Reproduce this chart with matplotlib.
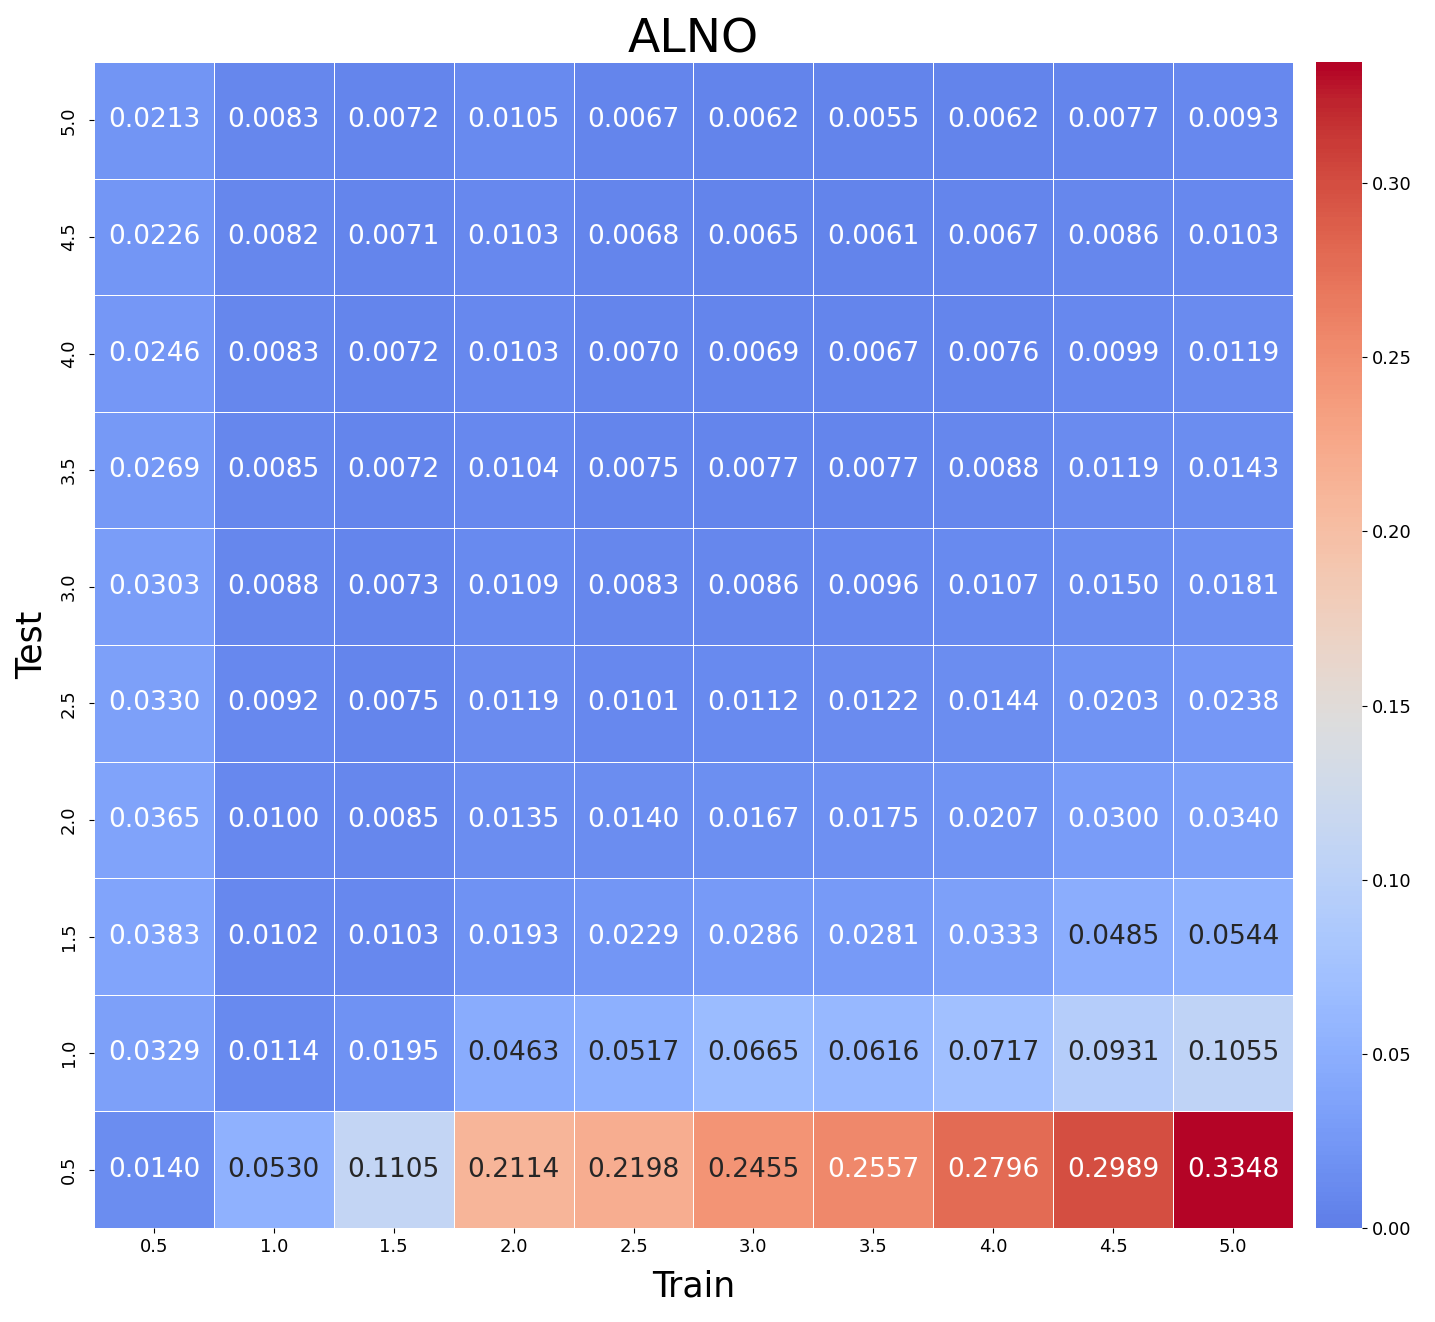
import matplotlib
matplotlib.use("Agg")
import matplotlib.pyplot as plt
import numpy as np
import seaborn as sns

train_labels = ["0.5", "1.0", "1.5", "2.0", "2.5", "3.0", "3.5", "4.0", "4.5", "5.0"]
# rows listed top to bottom (test = 5.0 ... 0.5)
test_labels = ["5.0", "4.5", "4.0", "3.5", "3.0", "2.5", "2.0", "1.5", "1.0", "0.5"]

row_50 = [0.0213, 0.0083, 0.0072, 0.0105, 0.0067, 0.0062, 0.0055, 0.0062, 0.0077, 0.0093]
row_45 = [0.0226, 0.0082, 0.0071, 0.0103, 0.0068, 0.0065, 0.0061, 0.0067, 0.0086, 0.0103]
row_40 = [0.0246, 0.0083, 0.0072, 0.0103, 0.0070, 0.0069, 0.0067, 0.0076, 0.0099, 0.0119]
row_35 = [0.0269, 0.0085, 0.0072, 0.0104, 0.0075, 0.0077, 0.0077, 0.0088, 0.0119, 0.0143]
row_30 = [0.0303, 0.0088, 0.0073, 0.0109, 0.0083, 0.0086, 0.0096, 0.0107, 0.0150, 0.0181]
row_25 = [0.0330, 0.0092, 0.0075, 0.0119, 0.0101, 0.0112, 0.0122, 0.0144, 0.0203, 0.0238]
row_20 = [0.0365, 0.0100, 0.0085, 0.0135, 0.0140, 0.0167, 0.0175, 0.0207, 0.0300, 0.0340]
row_15 = [0.0383, 0.0102, 0.0103, 0.0193, 0.0229, 0.0286, 0.0281, 0.0333, 0.0485, 0.0544]
row_10 = [0.0329, 0.0114, 0.0195, 0.0463, 0.0517, 0.0665, 0.0616, 0.0717, 0.0931, 0.1055]
row_05 = [0.0140, 0.0530, 0.1105, 0.2114, 0.2198, 0.2455, 0.2557, 0.2796, 0.2989, 0.3348]

errors = np.array([row_50, row_45, row_40, row_35, row_30,
                   row_25, row_20, row_15, row_10, row_05])

fig = plt.figure(figsize=(14.35, 13.22), dpi=100)
ax = fig.add_axes([0.0655, 0.0711, 0.8355, 0.882])
cax = fig.add_axes([0.917, 0.0711, 0.032, 0.882])

# centred colormap: zero sits on a mid blue, the max on deep red
sns.heatmap(errors, ax=ax, cbar_ax=cax, cmap="coolwarm", vmin=0, center=0.145,
            annot=True, fmt=".4f", annot_kws={"fontsize": 19},
            linewidths=0.6, linecolor="white",
            xticklabels=train_labels, yticklabels=test_labels)

ax.set_title("ALNO", fontsize=34, pad=0)
ax.set_xlabel("Train", fontsize=25, labelpad=10)
ax.set_ylabel("Test", fontsize=25, labelpad=8)
ax.tick_params(axis="both", labelsize=13)
ax.tick_params(axis="y", pad=8)
plt.setp(ax.get_yticklabels(), rotation=90, va="center")
cax.tick_params(labelsize=13)
cax.set_yticks([0.0, 0.05, 0.10, 0.15, 0.20, 0.25, 0.30])

plt.savefig("out.png", dpi=100)
plt.close()
